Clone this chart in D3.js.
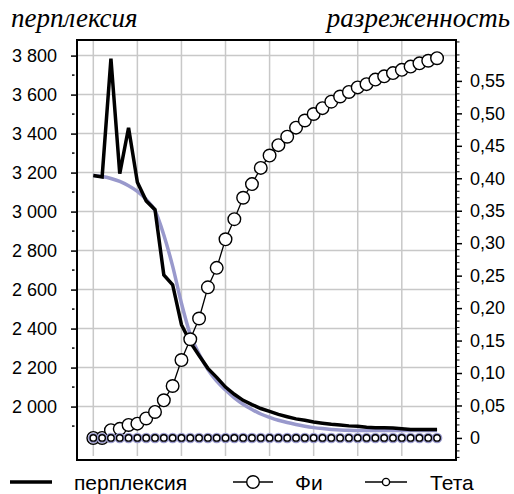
<!DOCTYPE html>
<html><head><meta charset="utf-8">
<script src="https://cdn.jsdelivr.net/npm/d3@7"></script>
<style>body{margin:0;background:#fff}svg{display:block}</style>
</head><body>
<script>
const steps = d3.range(40);
const perplexity = [3185,3178,3785,3195,3430,3150,3055,3010,2675,2625,2420,2330,2262,2196,2150,2100,2063,2032,2010,1990,1975,1960,1948,1937,1930,1921,1915,1909,1905,1901,1899,1894,1892,1891,1890,1886,1883,1883,1883,1883];
const smooth = [3185,3180,3170,3155,3133,3104,3062,3005,2880,2720,2530,2370,2270,2190,2130,2085,2045,2012,1985,1962,1945,1930,1918,1908,1899,1892,1887,1883,1880,1878,1877,1877,1877,1877,1877,1877,1877,1877,1877,1877];
const phi = [0,0,0.012,0.014,0.02,0.022,0.03,0.04,0.058,0.08,0.12,0.152,0.184,0.232,0.262,0.306,0.337,0.37,0.391,0.416,0.435,0.451,0.464,0.478,0.489,0.499,0.508,0.518,0.526,0.533,0.54,0.545,0.552,0.557,0.562,0.567,0.572,0.577,0.581,0.585];
const theta = new Array(40).fill(0);
const leftTicks = [2000,2200,2400,2600,2800,3000,3200,3400,3600,3800];
const rightTicks = [0,0.05,0.10,0.15,0.20,0.25,0.30,0.35,0.40,0.45,0.50,0.55];
const xGridTicks = [0,5,10,15,20,25,30,35];
const legendLabels = ["перплексия","Фи","Тета"];

const W=514,H=494, L=77, R=456, T=40, B=460;
const svg = d3.select("body").append("svg").attr("width",W).attr("height",H);
const x = d3.scaleLinear().domain([-1.85,41.15]).range([L,R]);
const yL = d3.scaleLinear().domain([1726,3880]).range([B,T]);
const yR = d3.scaleLinear().domain([-0.034,0.613]).range([B,T]);
const fmtL = v => d3.format(",")(v).replace(",", " ");
const fmtR = v => v===0 ? "0" : d3.format(".2f")(v).replace(".", ",");

// grid
const g = svg.append("g");
g.selectAll("line.h").data(leftTicks).join("line")
  .attr("x1",L).attr("x2",R).attr("y1",d=>yL(d)).attr("y2",d=>yL(d))
  .attr("stroke","#c8c8c8").attr("stroke-width",1.5);
g.selectAll("line.v").data(xGridTicks).join("line")
  .attr("x1",d=>x(d)).attr("x2",d=>x(d)).attr("y1",T).attr("y2",B-4)
  .attr("stroke","#c8c8c8").attr("stroke-width",1.5);

// left axis
const axL = d3.axisLeft(yL).tickValues(leftTicks).tickFormat(fmtL).tickSize(6).tickPadding(14);
const gl = svg.append("g").attr("transform",`translate(${L},0)`).call(axL);
gl.select(".domain").remove();
gl.selectAll("line").attr("stroke","#000").attr("stroke-width",1.5);
gl.selectAll("text").attr("font-family","Liberation Sans, Arial, sans-serif").attr("font-size",18).attr("fill","#000");
const minorL = d3.range(1900,3900,200);
svg.append("g").selectAll("line").data(minorL).join("line")
  .attr("x1",L-5).attr("x2",L-2.5).attr("y1",d=>yL(d)).attr("y2",d=>yL(d))
  .attr("stroke","#000").attr("stroke-width",1.5);

// right axis
const axR = d3.axisRight(yR).tickValues(rightTicks).tickFormat(fmtR).tickSize(6).tickPadding(8);
const gr = svg.append("g").attr("transform",`translate(${R},0)`).call(axR);
gr.select(".domain").remove();
gr.selectAll("line").attr("stroke","#000").attr("stroke-width",1.5);
gr.selectAll("text").attr("font-family","Liberation Sans, Arial, sans-serif").attr("font-size",18).attr("fill","#000");
const minorR = d3.range(-3,62).map(v=>v/100).filter(v=>Math.round(v*100)%5!==0);
svg.append("g").selectAll("line").data(minorR).join("line")
  .attr("x1",R).attr("x2",R+3.5).attr("y1",d=>yR(d)).attr("y2",d=>yR(d))
  .attr("stroke","#000").attr("stroke-width",1);

// series
const lineL = d3.line().x((d,i)=>x(steps[i])).y(d=>yL(d));
svg.append("path").datum(smooth).attr("d",lineL.curve(d3.curveMonotoneX))
  .attr("fill","none").attr("stroke","#9999cc").attr("stroke-width",3.5);
svg.append("path").datum(perplexity).attr("d",d3.line().x((d,i)=>x(steps[i])).y(d=>yL(d)))
  .attr("fill","none").attr("stroke","#000").attr("stroke-width",3.5).attr("stroke-linejoin","miter");

const lineR = d3.line().x((d,i)=>x(steps[i])).y(d=>yR(d));
svg.append("path").datum(phi).attr("d",lineR).attr("fill","none").attr("stroke","#000").attr("stroke-width",1.3);
svg.append("g").selectAll("circle").data(phi).join("circle")
  .attr("cx",(d,i)=>x(steps[i])).attr("cy",d=>yR(d)).attr("r",6.3)
  .attr("fill","#fff").attr("stroke","#000").attr("stroke-width",1.4);

svg.append("path").datum(theta).attr("d",lineR).attr("fill","none").attr("stroke","#000").attr("stroke-width",1);
svg.append("g").selectAll("circle").data(theta).join("circle")
  .attr("cx",(d,i)=>x(steps[i])).attr("cy",d=>yR(d)).attr("r",4.2)
  .attr("fill","none").attr("stroke","#9999cc").attr("stroke-width",2.2);
svg.append("g").selectAll("circle").data(theta).join("circle")
  .attr("cx",(d,i)=>x(steps[i])).attr("cy",d=>yR(d)).attr("r",3.2)
  .attr("fill","#fff").attr("stroke","#000").attr("stroke-width",1.4);

// frame
svg.append("rect").attr("x",L).attr("y",T).attr("width",R-L).attr("height",B-T)
  .attr("fill","none").attr("stroke","#000").attr("stroke-width",2);

// axis titles
svg.append("text").attr("x",11).attr("y",27).text("перплексия")
  .attr("font-family","Liberation Serif, Times New Roman, serif").attr("font-style","italic").attr("font-size",27);
svg.append("text").attr("x",510).attr("y",27).attr("text-anchor","end").text("разреженность")
  .attr("font-family","Liberation Serif, Times New Roman, serif").attr("font-style","italic").attr("font-size",27);

// legend
const ly = 482;
const lg = svg.append("g").attr("font-family","Liberation Sans, Arial, sans-serif").attr("font-size",21);
lg.append("line").attr("x1",10).attr("x2",52).attr("y1",ly).attr("y2",ly).attr("stroke","#000").attr("stroke-width",3.5);
lg.append("text").attr("x",74).attr("y",ly+7.5).text(legendLabels[0]);
lg.append("line").attr("x1",233).attr("x2",273).attr("y1",ly).attr("y2",ly).attr("stroke","#000").attr("stroke-width",1.3);
lg.append("circle").attr("cx",253).attr("cy",ly).attr("r",6.3).attr("fill","#fff").attr("stroke","#000").attr("stroke-width",1.4);
lg.append("text").attr("x",295).attr("y",ly+7.5).text(legendLabels[1]);
lg.append("line").attr("x1",365).attr("x2",407).attr("y1",ly).attr("y2",ly).attr("stroke","#000").attr("stroke-width",1.3);
lg.append("circle").attr("cx",386).attr("cy",ly).attr("r",3.6).attr("fill","#fff").attr("stroke","#000").attr("stroke-width",1.4);
lg.append("text").attr("x",430).attr("y",ly+7.5).text(legendLabels[2]);
</script>
</body></html>
